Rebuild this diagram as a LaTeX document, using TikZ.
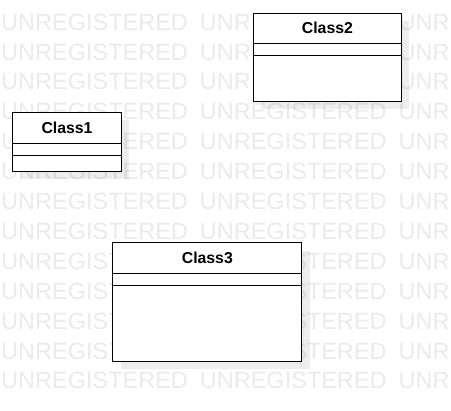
\documentclass[tikz,border=0pt]{standalone}
\usepackage{fontspec}
\setmainfont{Liberation Sans}
\definecolor{wm}{HTML}{EBEBEB}
\begin{document}
\begin{tikzpicture}[x=1pt,y=-1pt,
  wmtext/.style={text=wm, font=\fontsize{23.5}{24}\selectfont, inner sep=0pt, anchor=base west},
  classbox/.style={draw=black, line width=1.1pt, fill=white, inner sep=0pt, anchor=north west},
  shadowbox/.style={fill=black, fill opacity=0.07, draw=none, inner sep=0pt, anchor=north west},
  classtitle/.style={font=\bfseries\fontsize{15.8}{18}\selectfont, inner sep=0pt},
  sepline/.style={line width=1pt, draw=black}]
\useasboundingbox (0,0) rectangle (451,411);
\fill[white] (0,0) rectangle (451,411);
% watermark
\foreach \k in {0,...,12} {
  \node[wmtext] (wm-\k-a) at (1, 30.2+29.9*\k) {UNREGISTERED};
  \node[wmtext] (wm-\k-b) at (199.7, 30.2+29.9*\k) {UNREGISTERED};
  \node[wmtext] (wm-\k-c) at (398.4, 30.2+29.9*\k) {UNR};
}
% Class2
\node[shadowbox, minimum width=148.3pt, minimum height=88pt] (c2s) at (260.7,20.7) {};
\node[classbox, minimum width=148.3pt, minimum height=88pt] (c2) at (252.7,12.7) {};
\draw[sepline] ([yshift=-30.6pt]c2.north west) -- ([yshift=-30.6pt]c2.north east);
\draw[sepline] ([yshift=-43.3pt]c2.north west) -- ([yshift=-43.3pt]c2.north east);
\node[classtitle] (c2t) at ([yshift=-15.3pt]c2.north) {Class2};
% Class1
\node[shadowbox, minimum width=108.4pt, minimum height=58.4pt] (c1s) at (20.3,120.3) {};
\node[classbox, minimum width=108.4pt, minimum height=58.4pt] (c1) at (12.3,112.3) {};
\draw[sepline] ([yshift=-31pt]c1.north west) -- ([yshift=-31pt]c1.north east);
\draw[sepline] ([yshift=-43.7pt]c1.north west) -- ([yshift=-43.7pt]c1.north east);
\node[classtitle] (c1t) at ([yshift=-15.5pt]c1.north) {Class1};
% Class3
\node[shadowbox, minimum width=189pt, minimum height=118.4pt] (c3s) at (120.8,250.8) {};
\node[classbox, minimum width=189pt, minimum height=118.4pt] (c3) at (112.3,242.3) {};
\draw[sepline] ([yshift=-31pt]c3.north west) -- ([yshift=-31pt]c3.north east);
\draw[sepline] ([yshift=-43.7pt]c3.north west) -- ([yshift=-43.7pt]c3.north east);
\node[classtitle] (c3t) at ([yshift=-15.5pt]c3.north) {Class3};
\end{tikzpicture}
\end{document}
